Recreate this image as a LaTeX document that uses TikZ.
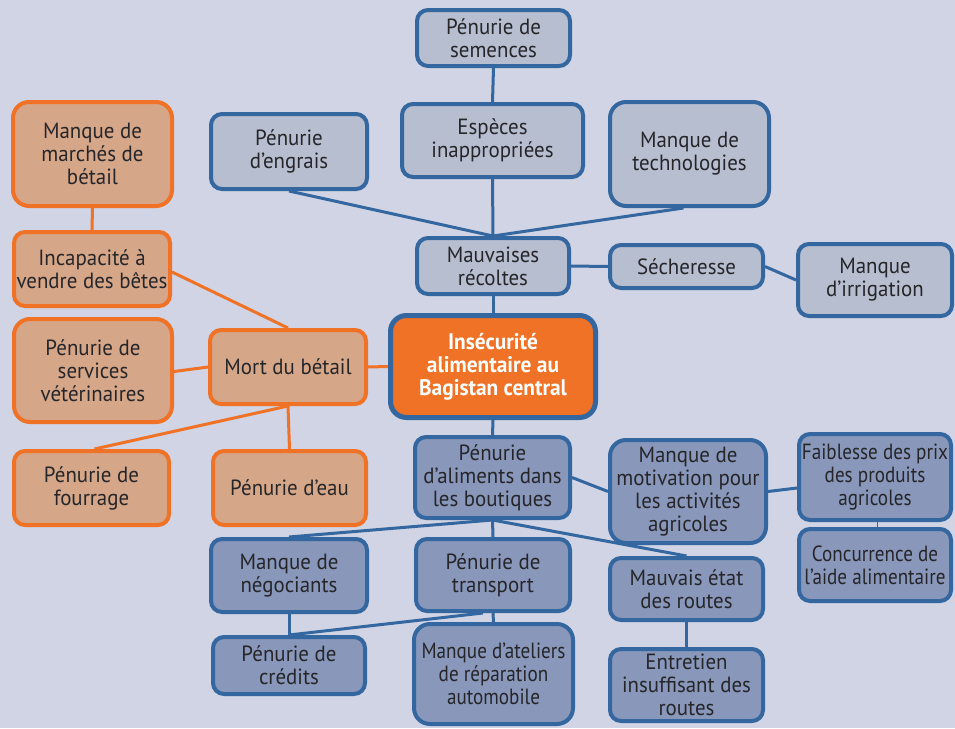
\documentclass[tikz,border=0pt]{standalone}
\usepackage{fontspec}
\setmainfont{PT Sans}[FakeStretch=0.95]
\newfontfamily\narrowfont{PT Sans}[FakeStretch=0.87]
\newfontfamily\centerfont{PT Sans}[FakeStretch=0.95]
\usetikzlibrary{backgrounds,calc}
\definecolor{bgc}{RGB}{208,212,228}
\definecolor{bluebd}{RGB}{52,103,160}
\definecolor{lightfill}{RGB}{183,190,208}
\definecolor{darkfill}{RGB}{136,151,186}
\definecolor{orangebd}{RGB}{240,114,38}
\definecolor{orangefill}{RGB}{214,166,136}
\definecolor{txt}{RGB}{38,38,42}
\tikzset{
  box/.style={rounded corners=11pt, line width=4pt, inner sep=0pt, align=center,
    font=\fontsize{22}{23}\selectfont, text=txt},
  lbox/.style={box, draw=bluebd, fill=lightfill},
  dbox/.style={box, draw=bluebd, fill=darkfill},
  obox/.style={box, draw=orangebd, fill=orangefill},
  narrow/.style={font=\narrowfont\fontsize{22}{23}\selectfont},
  cbox/.style={box, draw=bluebd, fill=orangebd, line width=5pt, text=white,
    font=\centerfont\fontsize{22.5}{23}\selectfont\bfseries},
  wh/.style 2 args={minimum width=#1pt-4pt, minimum height=#2pt-4pt},
  bl/.style={draw=bluebd, line width=3pt},
  ol/.style={draw=orangebd, line width=3pt},
}
\begin{document}
\begin{tikzpicture}[x=1pt,y=-1pt]
\useasboundingbox (0,0) rectangle (955,728);
% top branch
\node[lbox, wh={157}{60}] (semences) at (493.5,38) {Pénurie de\\semences};
\node[lbox, wh={185}{77}] (especes) at (492.5,140.5) {Espèces\\inappropriées};
\node[lbox, wh={160}{79}] (engrais) at (289,151.5) {Pénurie\\d’engrais};
\node[lbox, wh={163}{108}, rounded corners=16pt] (techno) at (689.5,154) {Manque de\\technologies};
\node[lbox, wh={156}{60}] (mauvaises) at (493,266) {Mauvaises\\récoltes};
\node[lbox, wh={157}{47}] (secheresse) at (686.5,266.5) {Sécheresse};
\node[lbox, wh={158}{76}] (irrigation) at (875,280) {Manque\\d’irrigation};
% orange branch
\node[obox, wh={163}{108}, rounded corners=16pt] (marches) at (92.5,154) {Manque de\\marchés de\\bétail};
\node[obox, wh={160}{78}] (incapacite) at (92,269) {Incapacité à\\vendre des bêtes};
\node[obox, wh={162}{107}, rounded corners=16pt] (veterinaires) at (93,370.5) {Pénurie de\\services\\vétérinaires};
\node[obox, wh={160}{78}] (mort) at (288,367) {Mort du bétail};
\node[obox, wh={159}{78}] (fourrage) at (91.5,488) {Pénurie de\\fourrage};
\node[obox, wh={157}{78}] (eau) at (289.5,488) {Pénurie d’eau};
% center
\node[cbox, minimum width=205pt, minimum height=102pt, rounded corners=16pt] (insecurite) at (493,366.5) {Insécurité\\alimentaire au\\Bagistan central};
% bottom branch
\node[dbox, wh={159}{85}] (aliments) at (492.5,477.5) {Pénurie\\d’aliments dans\\les boutiques};
\node[dbox, wh={160}{107}, rounded corners=16pt] (motivation) at (688,491.5) {Manque de\\motivation pour\\les activités\\agricoles};
\node[dbox, narrow, wh={156}{90}] (faiblesse) at (875,477) {Faiblesse des prix\\des produits\\agricoles};
\node[dbox, narrow, wh={156}{76}] (concurrence) at (875,565) {Concurrence de\\l’aide alimentaire};
\node[dbox, wh={157}{66}] (mauvaisetat) at (686.5,589) {Mauvais état\\des routes};
\node[dbox, wh={157}{76}] (entretien) at (686.5,685) {Entretien\\insuffisant des\\routes};
\node[dbox, wh={160}{77}] (negociants) at (289,575.5) {Manque de\\négociants};
\node[dbox, wh={158}{76}] (transport) at (493,575) {Pénurie de\\transport};
\node[dbox, wh={156}{61}] (credits) at (289,665.5) {Pénurie de\\crédits};
\node[dbox, narrow, wh={163}{104}, rounded corners=16pt] (ateliers) at (493.5,674) {Manque d’ateliers\\de réparation\\automobile};
\begin{pgfonlayer}{background}
\fill[bgc] (0,0) rectangle (955,728);
\draw[bl] (semences.south) -- (especes.north);
\draw[bl] (especes.south) -- (mauvaises.north);
\draw[bl] (engrais.south) -- (mauvaises.north);
\draw[bl] ($(techno.south)+(-6,0)$) -- (mauvaises.north);
\draw[bl] (mauvaises.east) -- (secheresse.west);
\draw[bl] (secheresse.east) -- (irrigation.west);
\draw[bl] (mauvaises.south) -- (insecurite.north);
\draw[bl] (insecurite.south) -- (aliments.north);
\draw[ol] (mort.east) -- (insecurite.west);
\draw[ol] (marches.south) -- (incapacite.north);
\draw[ol] ($(incapacite.east)+(0,3)$) -- (mort.north);
\draw[ol] ($(veterinaires.east)+(0,1)$) -- (mort.west);
\draw[ol] ($(fourrage.north)+(3,0)$) -- (mort.south);
\draw[ol] (eau.north) -- (mort.south);
\draw[bl] (aliments.east) -- (motivation.west);
\draw[bl] (motivation.east) -- ($(faiblesse.west)+(0,11)$);
\draw[bl, line width=1pt] ($(faiblesse.south)+(2,0)$) -- ($(concurrence.north)+(2,0)$);
\draw[bl] (aliments.south) -- (negociants.north);
\draw[bl] (aliments.south) -- (transport.north);
\draw[bl] (aliments.south) -- (mauvaisetat.north);
\draw[bl] (transport.south) -- (ateliers.north);
\draw[bl] (negociants.south) -- (credits.north);
\draw[bl] ($(transport.south)+(-10,0)$) -- (credits.north);
\draw[bl] (mauvaisetat.south) -- (entretien.north);
\end{pgfonlayer}
\end{tikzpicture}
\end{document}
